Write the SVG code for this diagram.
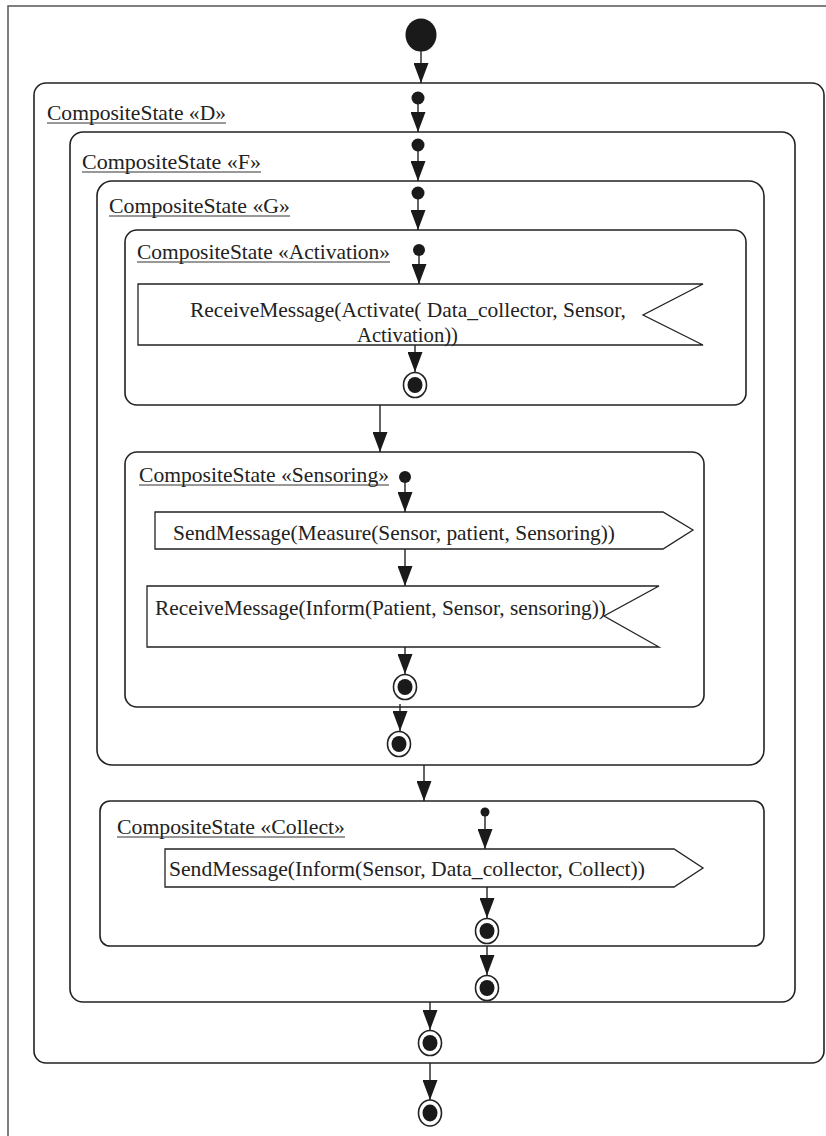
<svg xmlns="http://www.w3.org/2000/svg" width="826" height="1136" viewBox="0 0 826 1136">
  <style>
    .frame { fill: none; stroke: #555; stroke-width: 1.5; }
    .state { fill: none; stroke: #222; stroke-width: 1.6; }
    .msg { fill: #fff; stroke: #222; stroke-width: 1.3; }
    .lbl { font-family: "Liberation Serif", "Times New Roman", serif; font-size: 21px; fill: #222; }
    .ul { stroke: #333; stroke-width: 1; }
    .edge { fill: none; stroke: #222; stroke-width: 1.4; }
    .dot { fill: #1a1a1a; }
    .fin-o { fill: #fff; stroke: #222; stroke-width: 1.6; }
    .fin-i { fill: #1a1a1a; }
  </style>
  <defs>
    <marker id="arrow" markerUnits="userSpaceOnUse" markerWidth="20" markerHeight="15" refX="20" refY="7.5" orient="auto">
      <path d="M0,0 L20,7.5 L0,15 z" fill="#1a1a1a"/>
    </marker>
  </defs>

  <rect width="826" height="1136" fill="#fff"/>

  <!-- page frame -->
  <path class="frame" d="M8,1136 V6 H826"/>

  <!-- top-level initial state -->
  <g id="start">
    <ellipse class="dot" cx="421" cy="35" rx="15.5" ry="16.5"/>
  </g>

  <!-- composite state D -->
  <g id="state-D">
    <rect class="state" x="34" y="83" width="790" height="980" rx="12"/>
    <text class="lbl" x="47" y="120" textLength="179" lengthAdjust="spacingAndGlyphs">CompositeState «D»</text>
    <line class="ul" x1="47" y1="123" x2="226" y2="123"/>
    <circle class="dot" cx="418" cy="98" r="6.5"/>
  </g>

  <!-- composite state F -->
  <g id="state-F">
    <rect class="state" x="70" y="132" width="725" height="870" rx="13"/>
    <text class="lbl" x="82" y="169" textLength="179" lengthAdjust="spacingAndGlyphs">CompositeState «F»</text>
    <line class="ul" x1="82" y1="172" x2="261" y2="172"/>
    <circle class="dot" cx="418" cy="145" r="6.5"/>
  </g>

  <!-- composite state G -->
  <g id="state-G">
    <rect class="state" x="97" y="181" width="667" height="584" rx="15"/>
    <text class="lbl" x="109" y="213" textLength="181" lengthAdjust="spacingAndGlyphs">CompositeState «G»</text>
    <line class="ul" x1="109" y1="216" x2="290" y2="216"/>
    <circle class="dot" cx="418" cy="193" r="6.5"/>
  </g>

  <!-- composite state Activation -->
  <g id="state-activation">
    <rect class="state" x="125" y="230" width="621" height="175" rx="12"/>
    <text class="lbl" x="137" y="259" textLength="253" lengthAdjust="spacingAndGlyphs">CompositeState «Activation»</text>
    <line class="ul" x1="137" y1="262" x2="390" y2="262"/>
    <circle class="dot" cx="419" cy="250" r="6"/>
  </g>

  <g id="receive-activate">
    <polygon class="msg" points="138,284 703,284 643,315 703,345 138,345"/>
    <text class="lbl" x="190" y="317" textLength="436" lengthAdjust="spacingAndGlyphs">ReceiveMessage(Activate( Data_collector, Sensor,</text>
    <text class="lbl" x="357" y="342" textLength="101" lengthAdjust="spacingAndGlyphs">Activation))</text>
  </g>

  <g id="final-activation">
    <ellipse class="fin-o" cx="415" cy="385" rx="11.5" ry="12.5"/>
    <ellipse class="fin-i" cx="415" cy="385" rx="7.5" ry="8"/>
  </g>

  <!-- composite state Sensoring -->
  <g id="state-sensoring">
    <rect class="state" x="125" y="452" width="579" height="255" rx="12"/>
    <text class="lbl" x="139" y="482" textLength="250" lengthAdjust="spacingAndGlyphs">CompositeState «Sensoring»</text>
    <line class="ul" x1="139" y1="485" x2="389" y2="485"/>
    <circle class="dot" cx="405" cy="477" r="6"/>
  </g>

  <g id="send-measure">
    <polygon class="msg" points="155,512 663,512 693,530 663,549 155,549"/>
    <text class="lbl" x="173" y="540" textLength="442" lengthAdjust="spacingAndGlyphs">SendMessage(Measure(Sensor, patient, Sensoring))</text>
  </g>

  <g id="receive-inform">
    <polygon class="msg" points="147,586 659,586 604,616 659,647 147,647"/>
    <text class="lbl" x="155" y="615" textLength="451" lengthAdjust="spacingAndGlyphs">ReceiveMessage(Inform(Patient, Sensor, sensoring))</text>
  </g>

  <g id="final-sensoring">
    <ellipse class="fin-o" cx="405" cy="687" rx="11.5" ry="12.5"/>
    <ellipse class="fin-i" cx="405" cy="687" rx="7.5" ry="8"/>
  </g>

  <g id="final-G">
    <ellipse class="fin-o" cx="399" cy="744" rx="11.5" ry="12.5"/>
    <ellipse class="fin-i" cx="399" cy="744" rx="7.5" ry="8"/>
  </g>

  <!-- composite state Collect -->
  <g id="state-collect">
    <rect class="state" x="100" y="801" width="664" height="145" rx="10"/>
    <text class="lbl" x="117" y="834" textLength="228" lengthAdjust="spacingAndGlyphs">CompositeState «Collect»</text>
    <line class="ul" x1="117" y1="837" x2="345" y2="837"/>
    <circle class="dot" cx="485" cy="812" r="4.5"/>
  </g>

  <g id="send-inform">
    <polygon class="msg" points="165,849 674,849 703,868 674,887 165,887"/>
    <text class="lbl" x="169" y="876" textLength="476" lengthAdjust="spacingAndGlyphs">SendMessage(Inform(Sensor, Data_collector, Collect))</text>
  </g>

  <g id="final-collect">
    <ellipse class="fin-o" cx="487" cy="931" rx="11.5" ry="12.5"/>
    <ellipse class="fin-i" cx="487" cy="931" rx="7.5" ry="8"/>
  </g>

  <g id="final-F">
    <ellipse class="fin-o" cx="487" cy="988" rx="11.5" ry="12.5"/>
    <ellipse class="fin-i" cx="487" cy="988" rx="7.5" ry="8"/>
  </g>

  <g id="final-D">
    <ellipse class="fin-o" cx="430" cy="1043" rx="11.5" ry="12.5"/>
    <ellipse class="fin-i" cx="430" cy="1043" rx="7.5" ry="8"/>
  </g>

  <g id="final-top">
    <ellipse class="fin-o" cx="430" cy="1113" rx="11.5" ry="13"/>
    <ellipse class="fin-i" cx="430" cy="1113" rx="7.5" ry="8.5"/>
  </g>

  <!-- transitions -->
  <g id="connectors">
    <line class="edge" x1="421" y1="50" x2="421" y2="83" marker-end="url(#arrow)"/>
    <line class="edge" x1="418" y1="98" x2="418" y2="132" marker-end="url(#arrow)"/>
    <line class="edge" x1="418" y1="145" x2="418" y2="181" marker-end="url(#arrow)"/>
    <line class="edge" x1="418" y1="193" x2="418" y2="230" marker-end="url(#arrow)"/>
    <line class="edge" x1="419" y1="250" x2="419" y2="284" marker-end="url(#arrow)"/>
    <line class="edge" x1="415" y1="345" x2="415" y2="372" marker-end="url(#arrow)"/>
    <line class="edge" x1="380" y1="405" x2="380" y2="452" marker-end="url(#arrow)"/>
    <line class="edge" x1="405" y1="477" x2="405" y2="512" marker-end="url(#arrow)"/>
    <line class="edge" x1="405" y1="549" x2="405" y2="586" marker-end="url(#arrow)"/>
    <line class="edge" x1="405" y1="647" x2="405" y2="674" marker-end="url(#arrow)"/>
    <line class="edge" x1="400" y1="704" x2="400" y2="731" marker-end="url(#arrow)"/>
    <line class="edge" x1="424" y1="765" x2="424" y2="801" marker-end="url(#arrow)"/>
    <line class="edge" x1="485" y1="812" x2="485" y2="849" marker-end="url(#arrow)"/>
    <line class="edge" x1="487" y1="887" x2="487" y2="918" marker-end="url(#arrow)"/>
    <line class="edge" x1="487" y1="946" x2="487" y2="975" marker-end="url(#arrow)"/>
    <line class="edge" x1="430" y1="1002" x2="430" y2="1030" marker-end="url(#arrow)"/>
    <line class="edge" x1="430" y1="1063" x2="430" y2="1100" marker-end="url(#arrow)"/>
  </g>
</svg>
